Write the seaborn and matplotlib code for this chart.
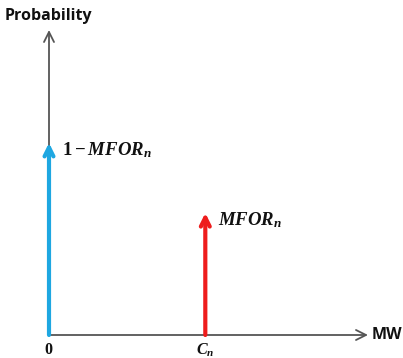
import matplotlib
matplotlib.use("Agg")
import matplotlib.pyplot as plt
import seaborn as sns

sns.set_style("white")
plt.rcParams['mathtext.fontset'] = 'custom'
plt.rcParams['mathtext.it'] = 'Liberation Serif:italic:bold'
plt.rcParams['mathtext.rm'] = 'Liberation Serif:bold'
plt.rcParams['mathtext.bf'] = 'Liberation Serif:bold'

# Data
positions = [0.0, 0.49]            # 0 and C_n (fraction of x-axis length)
probabilities = [0.63, 0.40]       # 1-MFOR_n and MFOR_n (fraction of y-axis height)
value_labels = [r'$1 - MFOR_n$', r'$MFOR_n$']
tick_labels = [r'$0$', r'$C_n$']
colors = ['#1EA7E1', '#EE1C1C']

fig = plt.figure(figsize=(4.03, 3.58), dpi=100)
ax = fig.add_axes([49/403, 23/358, 319/403, 305/358])
ax.set_xlim(0, 1)
ax.set_ylim(0, 1)
ax.axis('off')

axis_color = '#555555'
# axes with open arrow heads
ax.annotate('', xy=(1.0, 0), xytext=(0, 0),
            arrowprops=dict(arrowstyle='->', color=axis_color, lw=1.3,
                            mutation_scale=18, shrinkA=0, shrinkB=0),
            annotation_clip=False)
ax.annotate('', xy=(0, 1.0), xytext=(0, 0),
            arrowprops=dict(arrowstyle='->', color=axis_color, lw=1.3,
                            mutation_scale=18, shrinkA=0, shrinkB=0),
            annotation_clip=False)

# probability arrows
for x, p, c, lab in zip(positions, probabilities, colors, value_labels):
    ax.annotate('', xy=(x, p), xytext=(x, 0),
                arrowprops=dict(arrowstyle='->', color=c, lw=3,
                                mutation_scale=16, shrinkA=0, shrinkB=0),
                annotation_clip=False)
    ax.text(x + 0.04, p - 0.025, lab, fontsize=13.5, color='#111111',
            ha='left', va='center')

for x, t in zip(positions, tick_labels):
    ax.text(x, -0.022, t, fontsize=11.5, color='#111111', ha='center', va='top')

fig.text(5/403, 1 - 16/358, 'Probability', fontsize=11.5, fontweight='bold',
         color='#111111', ha='left', va='center', family='Open Sans')
fig.text(372/403, 1 - 335/358, 'MW', fontsize=11.5, fontweight='bold',
         color='#111111', ha='left', va='center', family='Open Sans')

fig.savefig('out.png', dpi=100)
